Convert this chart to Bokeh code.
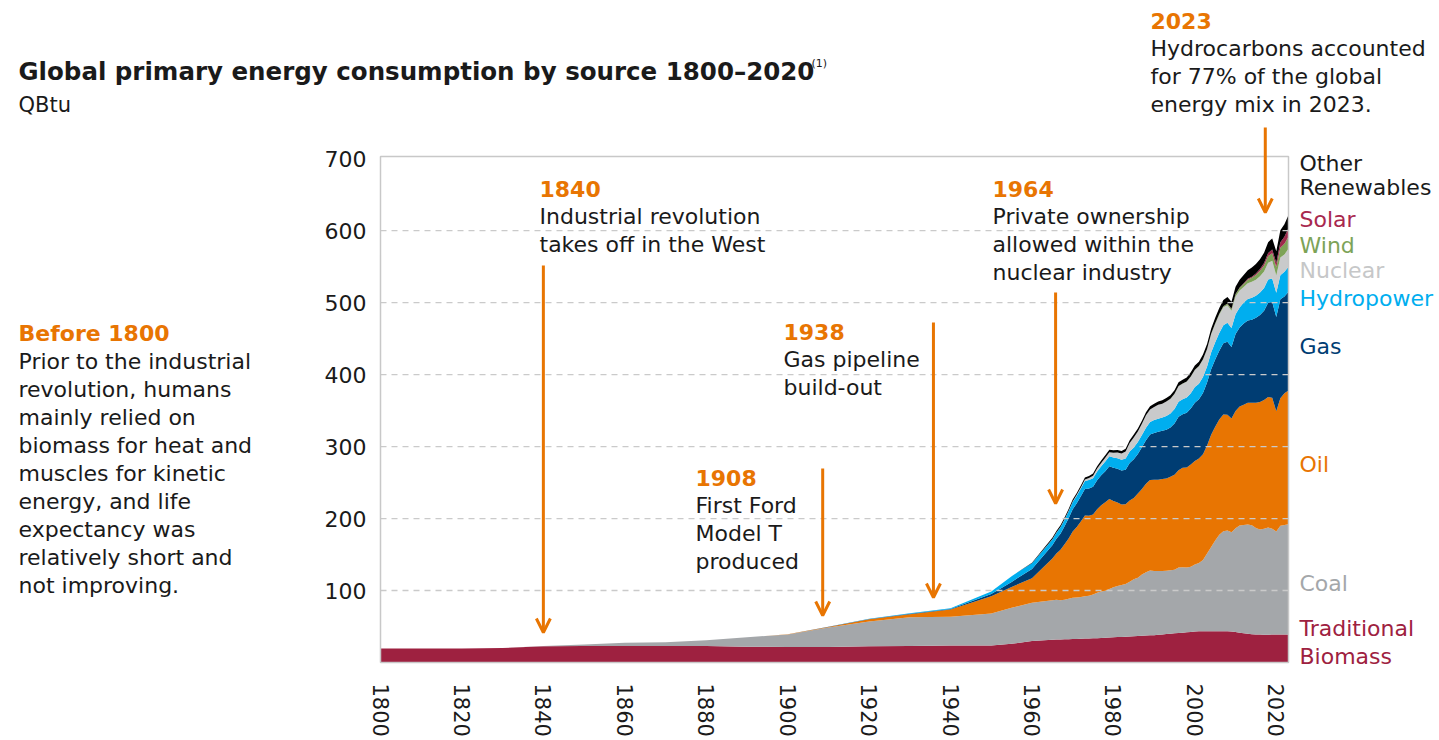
from bokeh.plotting import figure
from bokeh.models import ColumnDataSource, Range1d, FixedTicker, Label, Arrow, OpenHead
from bokeh.embed import file_html
from bokeh.resources import INLINE

# ---------------- data (QBtu) ----------------
years = [1800, 1810, 1820, 1830, 1840, 1850, 1860, 1870, 1880, 1890,
         1900, 1910, 1920, 1930, 1940, 1950, 1955, 1960] + list(range(1965, 2024))

biomass = [19.5, 19.5, 19.5, 20.0, 22.5, 23.0, 23.0, 23.0, 23.0, 22.0,
           21.5, 21.5, 22.5, 23.0, 23.5, 23.5, 26.0, 30.0,
           31.5, 31.8, 32.0, 32.2, 32.4,
           32.6, 32.8, 33.0, 33.2, 33.4, 33.6, 33.8, 34.0, 34.3, 34.6,
           35.0, 35.3, 35.6, 35.9, 36.2, 36.5, 36.8, 37.1, 37.4, 37.7,
           38.0, 38.5, 39.0, 39.5, 40.0, 40.5, 41.0, 41.5, 42.0, 42.5,
           43.0, 43.3, 43.5, 43.5, 43.5, 43.5, 43.5, 43.5, 43.3, 43.0,
           42.5, 41.5, 40.5, 39.8, 39.3, 39.0, 38.8, 38.7, 38.7, 38.8,
           38.9, 39.0, 39.0, 39.0]

coal = [0.0, 0.0, 0.0, 0.0, 0.5, 2.0, 4.5, 5.0, 8.0, 13.0,
        17.5, 27.0, 34.5, 40.0, 40.0, 44.5, 50.0, 53.0,
        55.0, 55.5, 54.5, 55.0, 56.0,
        57.4, 57.5, 58.0, 59.0, 59.5, 61.0, 63.0, 64.5, 65.5, 67.5,
        69.5, 71.0, 72.0, 73.0, 76.0, 79.0, 81.0, 85.0, 88.0, 90.0,
        89.0, 88.5, 88.0, 88.0, 88.0, 88.5, 91.0, 91.0, 90.0, 90.5,
        93.0, 95.0, 99.0, 108.0, 117.0, 126.0, 134.0, 139.0, 140.0, 138.0,
        144.0, 149.0, 150.5, 152.0, 151.5, 148.0, 146.0, 147.0, 149.0, 147.0,
        143.0, 151.0, 152.0, 153.0]

oil = [0, 0, 0, 0, 0, 0, 0, 0, 0, 0,
       0.2, 0.8, 3.0, 4.0, 10.0, 24.0, 29.0, 34.0,
       58, 64, 70, 77, 84,
       92, 98, 105, 112, 111, 111, 116, 120, 123, 125,
       120, 116, 112, 111, 113, 113, 117, 119, 123, 126,
       127, 127, 128, 128, 130, 132, 135, 138, 139, 142,
       144, 145, 147, 150, 156, 158, 160, 162, 161, 158,
       163, 165, 167, 169, 170, 174, 177, 179, 181, 182,
       167, 177, 183, 186]

gas = [0, 0, 0, 0, 0, 0, 0, 0, 0, 0,
       0, 0.2, 0.5, 0.8, 1.0, 3.0, 7.0, 13.0,
       18.5, 20.5, 22.5, 25.0, 28.0,
       31.0, 33.0, 35.0, 37.0, 38.0, 38.5, 40.5, 41.5, 43.0, 45.5,
       46.0, 47.0, 47.0, 48.0, 52.0, 54.0, 55.0, 58.0, 60.5, 63.0,
       65.0, 66.5, 67.0, 68.0, 68.5, 71.0, 74.5, 74.5, 76.0, 78.0,
       81.0, 82.5, 85.0, 87.5, 91.0, 93.5, 95.5, 99.0, 101.5, 99.5,
       107.0, 110.0, 113.0, 114.5, 115.5, 118.0, 121.0, 124.0, 131.0, 133.0,
       131.0, 137.5, 134.5, 137.0]

hydropower = [0, 0, 0, 0, 0, 0, 0, 0, 0, 0,
              0, 0, 0.3, 0.5, 1.0, 3.5, 8.0, 8.0,
              8.0, 8.5, 9.0, 9.3, 9.7,
              10.0, 10.5, 10.8, 11.0, 11.8, 12.0, 12.2, 12.5, 13.3, 13.8,
              14.2, 14.5, 15.0, 15.5, 16.0, 16.3, 16.6, 16.8, 17.3, 17.3,
              17.8, 18.3, 18.3, 19.1, 19.3, 20.1, 20.6, 20.8, 21.0, 21.2,
              21.8, 21.6, 22.0, 22.1, 23.3, 24.1, 24.8, 25.1, 26.1, 26.1,
              27.3, 27.8, 29.0, 29.8, 30.4, 30.4, 31.3, 31.6, 32.3, 32.8,
              33.8, 33.6, 34.3, 35.0]

nuclear = [0] * 18 + [
    0.2, 0.3, 0.4, 0.5, 0.6,
    0.8, 1.1, 1.5, 2.0, 2.6, 3.5, 4.0, 4.8, 5.5, 5.8,
    6.8, 7.9, 8.6, 9.8, 11.8, 13.8, 14.6, 15.9, 17.2, 17.6,
    18.3, 19.2, 19.3, 20.0, 20.4, 21.1, 21.8, 21.6, 22.1, 22.9,
    23.5, 24.1, 24.4, 24.0, 25.1, 25.2, 25.5, 24.8, 24.6, 24.2,
    24.8, 23.6, 21.7, 21.8, 22.2, 22.4, 22.6, 22.8, 23.3, 24.5,
    23.8, 24.6, 24.0, 25.0]

wind = [0] * 18 + [0] * 25 + [
    0.02, 0.03, 0.04, 0.05, 0.07, 0.1, 0.1, 0.15, 0.2, 0.3,
    0.3, 0.4, 0.5, 0.6, 0.8, 1.0, 1.2, 1.6, 2.0, 2.5,
    3.0, 3.6, 4.3, 5.0, 5.6, 6.5, 7.4, 8.5, 9.4, 10.4,
    11.6, 13.4, 15.0, 16.5]

solar = [0] * 18 + [0] * 35 + [
    0.01, 0.01, 0.02, 0.02, 0.03, 0.04, 0.05, 0.07, 0.1, 0.2,
    0.3, 0.6, 0.9, 1.2, 1.6, 2.1, 2.7, 3.5, 4.4, 5.3,
    6.3, 7.7, 9.7, 12.0]

other = [0] * 17 + [0.5] + [
    2.0, 2.1, 2.2, 2.3, 2.4,
    2.5, 2.6, 2.7, 2.8, 2.9, 3.0, 3.1, 3.2, 3.3, 3.4,
    3.5, 3.6, 3.7, 3.8, 3.9, 4.0, 4.1, 4.2, 4.3, 4.4,
    4.5, 4.6, 4.7, 4.8, 4.9, 5.0, 5.2, 5.4, 5.5, 5.7,
    5.9, 6.1, 6.4, 6.7, 7.1, 7.5, 8.0, 8.6, 9.2, 9.7,
    10.3, 10.8, 11.4, 12.0, 12.6, 13.1, 13.6, 14.2, 14.8, 15.4,
    16.0, 16.8, 17.5, 18.2]

series_names = ["biomass", "coal", "oil", "gas", "hydropower", "nuclear", "wind", "solar", "other"]
series_colors = ["#9E2140", "#A4A7AA", "#E87502", "#003D73", "#00AEEF", "#C9CACB", "#7DA357", "#9E2A4C", "#000000"]

x_ticks = [1800, 1820, 1840, 1860, 1880, 1900, 1920, 1940, 1960, 1980, 2000, 2020]
y_ticks = [100, 200, 300, 400, 500, 600, 700]

# ---------------- layout ----------------
FONT = "DejaVu Sans"
ORANGE = "#E87502"
DARK = "#1a1a1a"
W, H = 1438, 738
# plotting box on the canvas (px) and the data range it shows
FL, FT, FW, FH = 380, 156, 908, 506
X0, X1, Y0, Y1 = 1800, 2023, 0, 703
KX = FW / (X1 - X0)
KY = FH / (Y1 - Y0)


def dx(px):
    return X0 + (px - FL) / KX


def dy(py):
    return Y0 + (FT + FH - py) / KY


# the frame spans the whole canvas; axes are pinned to the plotting box
p = figure(width=W, height=H, output_backend="svg", toolbar_location=None,
           x_range=Range1d(dx(0), dx(W)), y_range=Range1d(dy(H), dy(0)),
           min_border=0, min_border_left=0, min_border_right=0,
           min_border_top=0, min_border_bottom=0)
p.background_fill_color = "white"
p.border_fill_color = "white"
p.outline_line_color = None
p.xgrid.visible = False
p.ygrid.visible = False

src = ColumnDataSource(dict(year=years, biomass=biomass, coal=coal, oil=oil, gas=gas,
                            hydropower=hydropower, nuclear=nuclear, wind=wind,
                            solar=solar, other=other))
p.varea_stack(stackers=series_names, x="year", color=series_colors, source=src)

# dashed gridlines over the areas
grid_levels = y_ticks[:-1]
p.segment(x0=[X0] * len(grid_levels), x1=[X1] * len(grid_levels), y0=grid_levels, y1=grid_levels,
          line_color="#CACACA", line_width=1.3, line_dash="6 5")
# plot box border
p.quad(left=[X0], right=[X1], bottom=[Y0], top=[Y1], fill_color=None,
       line_color="#C8C8C8", line_width=1.5)

# axes
p.xaxis.ticker = FixedTicker(ticks=x_ticks)
p.yaxis.ticker = FixedTicker(ticks=y_ticks)
p.xaxis.fixed_location = Y0
p.yaxis.fixed_location = X0
for ax in (p.xaxis[0], p.yaxis[0]):
    ax.axis_line_color = None
    ax.major_tick_line_color = None
    ax.minor_tick_line_color = None
    ax.major_tick_out = 0
    ax.major_tick_in = 0
    ax.major_label_text_font = FONT
    ax.major_label_text_color = DARK
p.yaxis.major_label_text_font_size = "22px"
p.xaxis.major_label_text_font_size = "21px"
p.xaxis.major_label_orientation = "vertical"
p.xaxis.major_label_standoff = 21
p.yaxis.major_label_standoff = 14


def lab(text, px, py, color=DARK, size=22, bold=False, align="left"):
    p.add_layout(Label(x=dx(px), y=dy(py), text=text,
                       text_color=color, text_font=FONT, text_font_size=f"{size}px",
                       text_font_style="bold" if bold else "normal",
                       text_align=align, text_baseline="middle"))


def block(lines, px, py, step=28, size=22):
    lab(lines[0], px, py, color=ORANGE, size=size, bold=True)
    for i, t in enumerate(lines[1:]):
        lab(t, px, py + step * (i + 1), size=size)


def arrow(year, py0, py1):
    p.add_layout(Arrow(x_start=year, y_start=dy(py0), x_end=year, y_end=dy(py1),
                       line_color=ORANGE, line_width=3,
                       end=OpenHead(size=14, line_color=ORANGE, line_width=3)))


# title
lab("Global primary energy consumption by source 1800\u20132020", 18, 71, size=24.5, bold=True)
lab("(1)", 811, 63, size=11)
lab("QBtu", 18, 104, size=21)

# left block
block(["Before 1800", "Prior to the industrial", "revolution, humans", "mainly relied on",
       "biomass for heat and", "muscles for kinetic", "energy, and life",
       "expectancy was", "relatively short and", "not improving."], 18, 333)

# annotations
block(["1840", "Industrial revolution", "takes off in the West"], 539, 188)
arrow(1840, 265, 632)
block(["1908", "First Ford", "Model T", "produced"], 695, 477)
arrow(1908.6, 468, 615)
block(["1938", "Gas pipeline", "build-out"], 783, 331)
arrow(1935.8, 322, 597)
block(["1964", "Private ownership", "allowed within the", "nuclear industry"], 992, 188)
arrow(1965.8, 292, 503)
block(["2023", "Hydrocarbons accounted", "for 77% of the global", "energy mix in 2023."], 1150, 20)
arrow(2017.3, 127, 212)

# right-hand series labels
lx = 1299
lab("Other", lx, 163)
lab("Renewables", lx, 187)
lab("Solar", lx, 219, color="#A8284E")
lab("Wind", lx, 245, color="#7DA357")
lab("Nuclear", lx, 270, color="#C6C7C8")
lab("Hydropower", lx, 298, color="#00AEEF")
lab("Gas", lx, 346, color="#003D73")
lab("Oil", lx, 464, color=ORANGE)
lab("Coal", lx, 583, color="#A4A7AA")
lab("Traditional", lx, 628, color="#9E2140")
lab("Biomass", lx, 656, color="#9E2140")

open("out.html", "w").write(file_html(p, INLINE))
